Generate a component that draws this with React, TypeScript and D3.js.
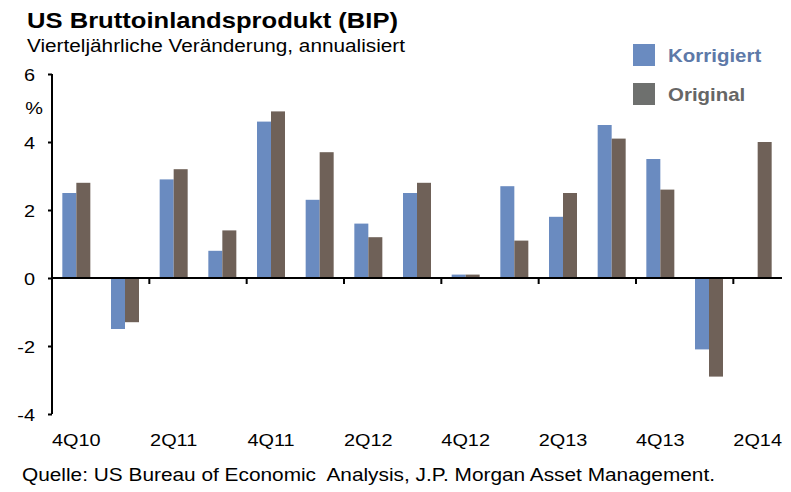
import { useEffect, useMemo, useRef } from "react";
import * as d3 from "d3";

const WIDTH = 791;
const HEIGHT = 492;
const MARGIN = { top: 74, right: 9, bottom: 78, left: 52 };
const FONT = "'Liberation Sans', Arial, sans-serif";
// the original picture is stretched sideways, so the text is too
const SX = 1.17;

const QUARTERS = [
  "4Q10", "1Q11", "2Q11", "3Q11", "4Q11", "1Q12", "2Q12", "3Q12",
  "4Q12", "1Q13", "2Q13", "3Q13", "4Q13", "1Q14", "2Q14",
];
const KORRIGIERT: (number | null)[] = [
  2.5, -1.5, 2.9, 0.8, 4.6, 2.3, 1.6, 2.5, 0.1, 2.7, 1.8, 4.5, 3.5, -2.1, null,
];
const ORIGINAL: (number | null)[] = [
  2.8, -1.3, 3.2, 1.4, 4.9, 3.7, 1.2, 2.8, 0.1, 1.1, 2.5, 4.1, 2.6, -2.9, 4.0,
];
const Y_TICKS = [6, 4, 2, 0, -2, -4];
const X_LABELS = ["4Q10", "2Q11", "4Q11", "2Q12", "4Q12", "2Q13", "4Q13", "2Q14"];

const SERIES = [
  { name: "Korrigiert", values: KORRIGIERT, fill: "#6a8bc0", legendFill: "#6a8bc0", text: "#5d79a8" },
  { name: "Original", values: ORIGINAL, fill: "#6f6158", legendFill: "#6e706e", text: "#666666" },
];

export default function App() {
  const axesRef = useRef<SVGGElement>(null);
  const boundsWidth = WIDTH - MARGIN.left - MARGIN.right;
  const boundsHeight = HEIGHT - MARGIN.top - MARGIN.bottom;

  const xScale = useMemo(
    () => d3.scaleBand().domain(QUARTERS).range([0, boundsWidth]),
    [boundsWidth]
  );
  const yScale = useMemo(
    () => d3.scaleLinear().domain([-4, 6]).range([boundsHeight, 0]),
    [boundsHeight]
  );
  const barWidth = 14;

  useEffect(() => {
    const g = d3.select(axesRef.current);
    g.selectAll("*").remove();

    // y axis, plain hyphen for negatives
    const yAxis = g
      .append("g")
      .call(d3.axisLeft(yScale).tickValues(Y_TICKS).tickSize(4).tickFormat((d) => String(d)));
    yAxis.select(".domain").attr("stroke", "#000").attr("stroke-width", 2).attr("d", `M0,${yScale(6)}V${yScale(-4)}`);
    yAxis.selectAll(".tick line").attr("stroke", "#000").attr("stroke-width", 2);
    yAxis
      .selectAll(".tick text")
      .attr("x", -17 / SX)
      .attr("dy", "0.36em")
      .attr("transform", `scale(${SX},1)`)
      .style("font-family", FONT)
      .style("font-size", "17px")
      .attr("fill", "#000");

    g.append("text")
      .attr("transform", `translate(-9,${yScale(5)}) scale(${SX},1)`)
      .attr("dy", "0.36em")
      .attr("text-anchor", "end")
      .style("font-family", FONT)
      .style("font-size", "17px")
      .text("%");

    // x axis at zero
    const y0 = yScale(0);
    g.append("line")
      .attr("x1", 0)
      .attr("x2", boundsWidth)
      .attr("y1", y0)
      .attr("y2", y0)
      .attr("stroke", "#000")
      .attr("stroke-width", 2);

    QUARTERS.forEach((q, i) => {
      if (i > 0 && i % 2 === 0) {
        const x = xScale(q) ?? 0;
        g.append("line")
          .attr("x1", x)
          .attr("x2", x)
          .attr("y1", y0)
          .attr("y2", y0 + 6)
          .attr("stroke", "#000")
          .attr("stroke-width", 2);
      }
    });

    g.selectAll(".xlabel")
      .data(X_LABELS)
      .join("text")
      .attr("class", "xlabel")
      .attr(
        "transform",
        (d) => `translate(${(xScale(d) ?? 0) + xScale.bandwidth() / 2},${boundsHeight + 32}) scale(${SX},1)`
      )
      .attr("text-anchor", "middle")
      .style("font-family", FONT)
      .style("font-size", "17px")
      .text((d) => d);
  }, [xScale, yScale, boundsWidth, boundsHeight]);

  const bars = SERIES.flatMap((s, si) =>
    QUARTERS.map((q, i) => {
      const v = s.values[i];
      if (v === null) return null;
      const cx = (xScale(q) ?? 0) + xScale.bandwidth() / 2;
      const x = cx - barWidth + si * barWidth;
      const y = yScale(Math.max(0, v));
      const h = Math.abs(yScale(v) - yScale(0));
      return <rect key={`${s.name}-${q}`} x={x} y={y} width={barWidth} height={h} fill={s.fill} />;
    })
  );

  return (
    <svg width={WIDTH} height={HEIGHT} style={{ display: "block", position: "absolute", left: 0, top: 0 }}>
      <rect width={WIDTH} height={HEIGHT} fill="#fff" />
      <text x={27} y={28} fontFamily={FONT} fontSize={22} fontWeight="bold" fill="#000"
        textLength={371} lengthAdjust="spacingAndGlyphs">
        US Bruttoinlandsprodukt (BIP)
      </text>
      <text x={27} y={52} fontFamily={FONT} fontSize={17.5} fill="#000"
        textLength={378} lengthAdjust="spacingAndGlyphs">
        Vierteljährliche Veränderung, annualisiert
      </text>
      <g transform={`translate(${MARGIN.left},${MARGIN.top})`}>{bars}</g>
      <g ref={axesRef} transform={`translate(${MARGIN.left},${MARGIN.top})`} />
      {SERIES.map((s, i) => (
        <g key={s.name} transform={`translate(633,${44 + i * 39})`}>
          <rect width={22} height={22} fill={s.legendFill} />
          <text transform={`translate(35,18) scale(${SX},1)`} fontFamily={FONT} fontSize={17.5}
            fontWeight="bold" fill={s.text}>
            {s.name}
          </text>
        </g>
      ))}
      <text x={22} y={481} fontFamily={FONT} fontSize={17.5} fill="#000" style={{ whiteSpace: "pre" }}
        textLength={693} lengthAdjust="spacingAndGlyphs">
        {"Quelle: US Bureau of Economic  Analysis, J.P. Morgan Asset Management."}
      </text>
    </svg>
  );
}
